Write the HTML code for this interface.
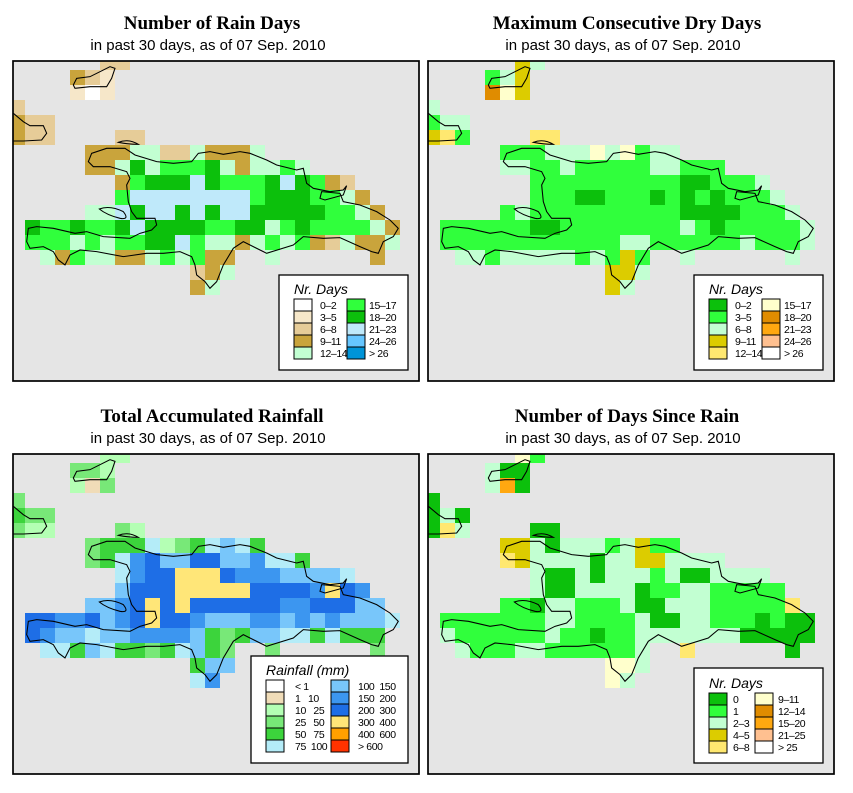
<!DOCTYPE html>
<html><head><meta charset="utf-8">
<style>
html,body{margin:0;padding:0;background:#fff;}
svg{display:block;}
.t{font-family:"Liberation Serif",serif;font-weight:bold;font-size:19px;}
.s{font-family:"Liberation Sans",sans-serif;font-size:15px;}
.lt{font-family:"Liberation Sans",sans-serif;font-style:italic;font-size:14px;}
.ll{font-family:"Liberation Sans",sans-serif;font-size:10.5px;letter-spacing:-0.4px;}
</style></head>
<body>
<svg id="chart" width="853" height="793" viewBox="0 0 853 793" xmlns="http://www.w3.org/2000/svg"></svg>
<script>
// ---- data ----
const rainDaysGrid = [
"......bb..................",
"....cba...................",
"....aWa...................",
"b.........................",
"cbb.......................",
"cbb....bb.................",
".....cccddbbdcccd.........",
".....ccdfdeeefdcdded......",
".......cefffgfeeefgfecb...",
".......eggggggggefffeedc..",
".....ddgfggfgfggfffffeedc.",
".feefeefgffffeeffdefeeeedc",
".eeededeeffgeddcdedecbdccd",
"..dceddccdedecc..d......c.",
"............bcd...........",
"............cd............"];
const dryDaysGrid = [
"......DC..................",
"....BCD...................",
"....GFD...................",
"C.........................",
"BCC.......................",
"DEB....EE.................",
".....BBBCCCFCFBCC.........",
".....CCBBCBBBBBCCBBB......",
".......BBBBBBBBBBAABBBC...",
".......BBBAABBBABABABBBC..",
".....BCBBBBBBBBBBAAAABBBC.",
".BBBBBBAABBBBBBBBCBABBBBBC",
".BBBBBBBBBBBBCCBBBBBBCBBBC",
"..CCBCCCCCBCBDB..C......C.",
"............DDC...........",
"............DC............"];
const rainfallGrid = [
"......bb..................",
"....ccb...................",
"....bac...................",
"c.........................",
"dcc.......................",
"cbb....cb.................",
".....cdddebcdefed.........",
".....cdeghffhhffgeed......",
".......eghhiiihgggffffe...",
".......fhhhiiiiihhhhgihg..",
".....ffghihihhhhhhgghhhff.",
".hhgghfghihhgfffggfgfgfffe",
".hgffeffggggfdcdffeededdd",
"..eedfeddcdefdc..c......c.",
"............dff...........",
"............eg............"];
const sinceRainGrid = [
"......FB..................",
"....CAA...................",
"....CHA...................",
"A.........................",
"ACA.......................",
"AEC....AA.................",
".....DDCACCCBCDBB.........",
".....EDCCCCACCDDCCCC......",
".......CAACACCCBCAACCCC...",
".......CAACCCCABBCCBBBBB..",
".....BBACCBBBCAACCCBBBBBE.",
".BBBBBBBCCBBBBCAACCBBBABAA",
".CBBBBBBCBBABBCCCCCCCAAAAA",
"..CBBBCCBBBBBBC..E......A.",
"............FFC...........",
"............FC............"];

const rainDaysKeys = ["W","a","b","c","d","e","f","g","h","i"];
const rainDaysLabels = ["0\u20132","3\u20135","6\u20138","9\u201311","12\u201314","15\u201317","18\u201320","21\u201323","24\u201326","> 26"];
const rainDaysColors = ["#ffffff","#f6e7c9","#e6cc98","#c9a43c","#c2ffd2","#30ff3c","#0cc00c","#bfe9fa","#66c6ff","#0094d8"];

const dryKeys = ["A","B","C","D","E","F","G","H","I","J"];
const dryLabels = ["0\u20132","3\u20135","6\u20138","9\u201311","12\u201314","15\u201317","18\u201320","21\u201323","24\u201326","> 26"];
const dryColors = ["#0cc00c","#30ff3c","#c2ffd2","#dccc00","#ffe870","#ffffcc","#e08c00","#ffa810","#ffc090","#ffffff"];

const rainfallKeys = ["W","a","b","c","d","e","f","g","h","i","j","k"];
const rainfallLabels = ["< 1","1   10","10   25","25   50","50   75","75  100","100  150","150  200","200  300","300  400","400  600","> 600"];
const rainfallColors = ["#ffffff","#f0dcb8","#b4ffb4","#78e878","#3cd43c","#b4ecf8","#78c6fa","#3c96f0","#1e6ee6","#ffe678","#ffa000","#ff3200"];

const sinceKeys = ["A","B","C","D","E","F","G","H","I","J"];
const sinceLabels = ["0","1","2\u20133","4\u20135","6\u20138","9\u201311","12\u201314","15\u201320","21\u201325","> 25"];
const sinceColors = ["#0cc00c","#30ff3c","#c2ffd2","#dccc00","#ffe870","#ffffcc","#e08c00","#ffa810","#ffc090","#ffffff"];

const titles = ["Number of Rain Days","Maximum Consecutive Dry Days","Total Accumulated Rainfall","Number of Days Since Rain"];
const subtitle = "in past 30 days, as of  07 Sep. 2010";

// ---- drawing ----
const NS="http://www.w3.org/2000/svg";
const svg=document.getElementById('chart');
function mk(tag,attrs,parent){const e=document.createElementNS(NS,tag);for(const k in attrs)e.setAttribute(k,attrs[k]);(parent||svg).appendChild(e);return e;}

const coast = "M235,320 L245,295 L290,280 L345,280 L375,300 L440,320 L490,325 L545,320 L565,295 L600,290 L640,298 L690,290 L720,295 L770,315 L800,330 L860,345 L880,340 L890,385 L910,400 L960,410 L1000,405 L1010,392 L1000,420 L945,435 L930,430 L935,410 L990,415 L1000,440 L1050,450 L1100,470 L1140,495 L1165,520 L1150,545 L1120,560 L1105,595 L1085,590 L1050,575 L990,548 L940,550 L880,545 L850,570 L770,595 L760,590 L700,560 L670,580 L640,630 L620,680 L600,700 L585,680 L560,660 L555,630 L545,605 L510,590 L460,595 L410,595 L340,605 L260,590 L210,585 L180,600 L165,630 L145,615 L130,590 L100,575 L60,580 L50,560 L55,520 L80,515 L130,520 L195,535 L230,530 L280,545 L360,550 L390,535 L425,525 L440,510 L435,490 L380,490 L365,470 L355,440 L350,390 L360,370 L350,350 L300,335 L250,335 Z " +
"M190,90 L200,70 L240,65 L270,50 L300,35 L315,40 L305,70 L290,95 L240,95 L195,100 Z " +
"M10,175 L40,200 L60,212 L100,212 L110,235 L95,255 L40,258 L10,258 " +
"M268,462 Q300,450 340,470 Q360,495 330,490 Q290,480 268,462 Z " +
"M325,262 Q355,250 385,268 Q355,268 325,262 Z";

const panels = [
 {grid:rainDaysGrid, keys:rainDaysKeys, cols:rainDaysColors, labels:rainDaysLabels, ox:10, oy:55, fx:13, fy:61, name:'rain-days'},
 {grid:dryDaysGrid, keys:dryKeys, cols:dryColors, labels:dryLabels, ox:425, oy:55, fx:428, fy:61, name:'dry-days'},
 {grid:rainfallGrid, keys:rainfallKeys, cols:rainfallColors, labels:rainfallLabels, ox:10, oy:448, fx:13, fy:454, name:'rainfall'},
 {grid:sinceRainGrid, keys:sinceKeys, cols:sinceColors, labels:sinceLabels, ox:425, oy:448, fx:428, fy:454, name:'days-since-rain'}
];
const FW=406, FH=320, CELL=15;

panels.forEach((p,i)=>{
  const g=mk('g',{});
  
  
  const cx=p.fx+FW/2;
  const t=mk('text',{x:cx-4,y:p.fy-32,'text-anchor':'middle','class':'t'},g);
  t.textContent=titles[i];
  
  
  const st=mk('text',{x:cx-8,y:p.fy-11,'text-anchor':'middle','class':'s'},g);
  st.textContent=subtitle;
  
  
  const cp=mk('clipPath',{id:'clip'+i},g);
  mk('rect',{x:p.fx,y:p.fy,width:FW,height:FH},cp);
  const bg=mk('rect',{x:p.fx,y:p.fy,width:FW,height:FH,fill:'#e5e5e5'},g);
  
  
  const cg=mk('g',{'clip-path':'url(#clip'+i+')'},g);
  p.grid.forEach((row,r)=>{
    for(let c=0;c<row.length;c++){
      const k=p.keys.indexOf(row[c]);
      if(k<0) continue;
      const cell=mk('rect',{x:p.ox+c*CELL,y:p.oy+r*CELL,width:CELL,height:CELL,fill:p.cols[k]},cg);
      
      
    }
  });
  const cl=mk('path',{d:coast,fill:'none',stroke:'#000','stroke-width':3.2,transform:'translate('+p.ox+','+p.oy+') scale(0.3333)'},cg);
  
  
  const fr=mk('rect',{x:p.fx,y:p.fy,width:FW,height:FH,fill:'none',stroke:'#000','stroke-width':1.7},g);
  
  

  // legend
  const lg=mk('g',{},g);
  
  
  const isRain = p.name==='rainfall';
  const isSince = p.name==='days-since-rain';
  let bx,by,bw,bh,title,sx1,sx2,lx1,lx2,ry0,nper;
  if(isRain){bx=p.fx+238;by=p.fy+202;bw=157;bh=107;title='Rainfall (mm)';sx1=p.fx+253;sx2=p.fx+318;lx1=p.fx+282;lx2=p.fx+345;ry0=p.fy+226;nper=6;}
  else if(isSince){bx=p.fx+266;by=p.fy+214;bw=129;bh=95;title='Nr. Days';sx1=p.fx+281;sx2=p.fx+327;lx1=p.fx+305;lx2=p.fx+350;ry0=p.fy+239;nper=5;}
  else {bx=p.fx+266;by=p.fy+214;bw=129;bh=95;title='Nr. Days';sx1=p.fx+281;sx2=p.fx+334;lx1=p.fx+307;lx2=p.fx+356;ry0=p.fy+238;nper=5;}
  mk('rect',{x:bx,y:by,width:bw,height:bh,fill:'#fff',stroke:'#000','stroke-width':1.3},lg);
  const ltt=mk('text',{x:sx1,y:ry0-5,'class':'lt'},lg);
  ltt.textContent=title;
  
  
  p.labels.forEach((lab,j)=>{
    const col=Math.floor(j/nper), row=j%nper;
    const sx=col?sx2:sx1, lx=col?lx2:lx1, y=ry0+row*12;
    const sw=mk('rect',{x:sx,y:y,width:18,height:12,fill:p.cols[j],stroke:'#000','stroke-width':1},lg);
    
    
    const tx=mk('text',{x:lx,y:y+10,'class':'ll','xml:space':'preserve'},lg);
    tx.setAttribute('style','white-space:pre');
    tx.textContent=lab;
    
    
  });
});
</script>
</body></html>
